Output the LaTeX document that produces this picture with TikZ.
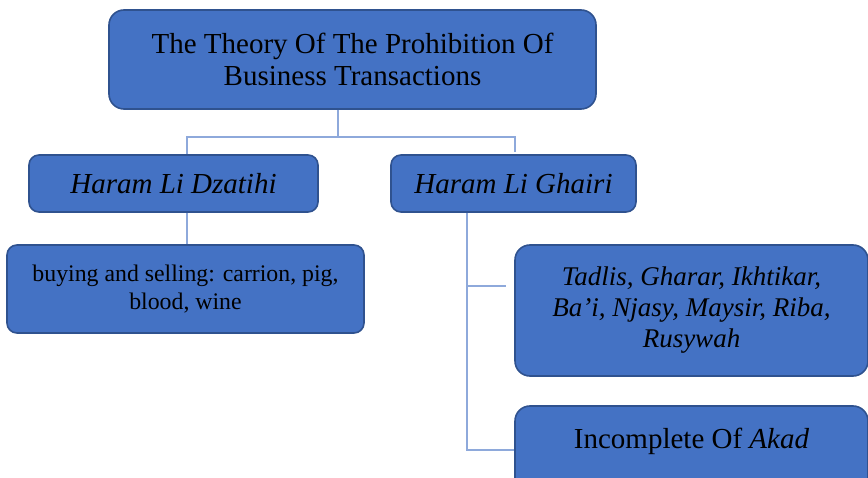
\documentclass[tikz,border=0pt]{standalone}
\usepackage{fontspec}
\setmainfont{Liberation Serif}

\begin{document}
\begin{tikzpicture}[x=1pt, y=-1pt,
    box/.style = {draw=boxline, fill=boxfill, line width=1.6pt, rounded corners=10pt,
                  align=center, inner sep=0pt, font=\fontsize{29}{32}\selectfont},
    link/.style = {draw=linkblue, line width=1.3pt}]
    \definecolor{boxfill}{HTML}{4472C4}
    \definecolor{boxline}{HTML}{2F528F}
    \definecolor{linkblue}{HTML}{8EA9DB}
    \useasboundingbox[clip] (0,0) rectangle (868,478);
    \node[box, minimum width=487pt, minimum height=99pt, rounded corners=15pt] (theory) at (352.5,59.5)
        {The Theory Of The Prohibition Of\\Business Transactions};
    \node[box, minimum width=289pt, minimum height=57pt] (dzatihi) at (173.5,183.5) {\textit{Haram Li Dzatihi}};
    \node[box, minimum width=245pt, minimum height=57pt] (ghairi) at (513.5,183.5) {\textit{Haram Li Ghairi}};
    \node[box, minimum width=357pt, minimum height=88pt, font=\fontsize{23.8}{28}\selectfont] (buying) at (185.5,289)
        {buying and selling: carrion, pig,\\blood, wine};
    \node[box, minimum width=353pt, minimum height=131pt, rounded corners=15pt,
          font=\fontsize{27}{31}\selectfont\itshape] (tadlis) at (691.5,310.5)
        {Tadlis, Gharar, Ikhtikar,\\Ba'i, Njasy, Maysir, Riba,\\Rusywah};
    \node[box, minimum width=353pt, minimum height=90pt, rounded corners=15pt,
          text height=20pt, text depth=26pt] (akad) at (691.5,451)
        {Incomplete Of \textit{Akad}};
    % branches
    \coordinate (split) at (338,137);
    \coordinate (tip) at (506,286);
    \draw[link] (theory.south -| split) -- (split);
    \draw[link] (split) -| (dzatihi.north -| 187,0);
    \draw[link] (split) -| (515,152);
    \draw[link] (dzatihi.south -| 187,0) -- (buying.north -| 187,0);
    \draw[link] (ghairi.south -| 467,0) |- (akad.west |- 0,450);
    \draw[link] (tip -| 467,0) -- (tip);
\end{tikzpicture}
\end{document}
